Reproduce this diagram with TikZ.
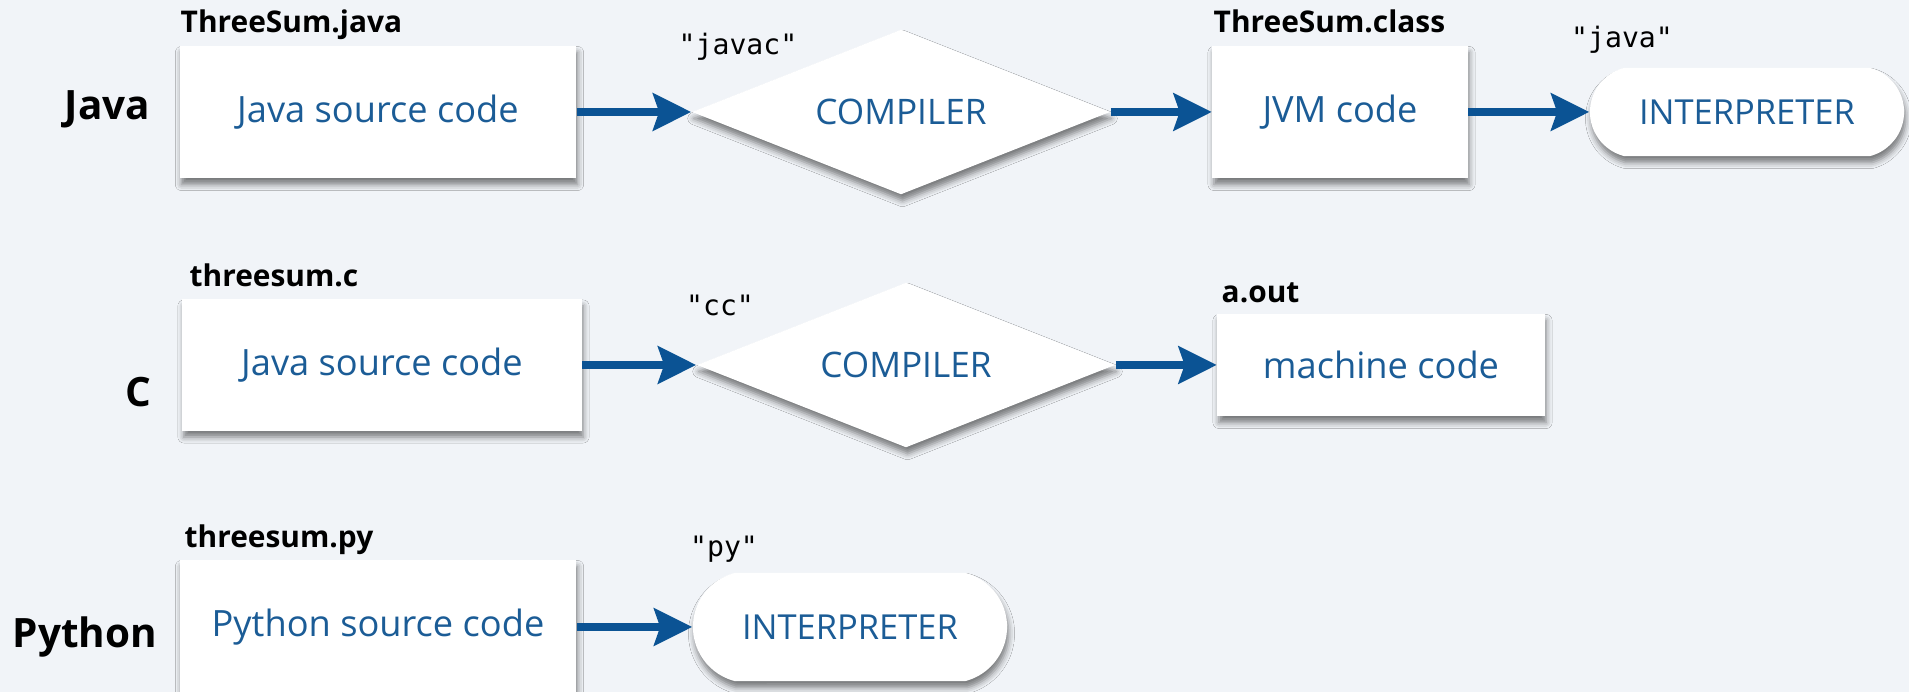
\documentclass[tikz,border=0pt]{standalone}
\usepackage{fontspec}
\setmainfont{Open Sans}
\setmonofont{DejaVu Sans Mono}
\usetikzlibrary{shapes.geometric,shapes.misc,shadows.blur,arrows.meta}
\definecolor{bg}{HTML}{F1F4F8}
\definecolor{ink}{HTML}{0B5394}
\definecolor{txt}{HTML}{1B5C96}
\def\w{3.96cm}
\def\h{1.32cm}
\tikzstyle{shd}=[blur shadow={shadow xshift=0.015cm,shadow yshift=-0.065cm,shadow blur radius=0.06cm,shadow opacity=50}]
\tikzstyle{box}=[rectangle,fill=white,shd,text=txt,inner sep=0pt,font=\fontsize{10.3}{12}\selectfont]
\tikzstyle{comp}=[diamond,aspect=2.53,fill=white,shd,text=txt,inner sep=0pt,minimum width=4.18cm,minimum height=1.65cm,font=\fontsize{10}{12}\selectfont]
\tikzstyle{interp}=[rounded rectangle,rounded rectangle arc length=150,fill=white,shd,text=txt,inner sep=0pt,minimum width=3.14cm,font=\fontsize{9.8}{12}\selectfont]
\tikzstyle{file}=[anchor=base west,inner sep=0pt,font=\bfseries\fontsize{8.5}{10}\selectfont]
\tikzstyle{cmd}=[anchor=base,inner sep=0pt,font=\ttfamily\fontsize{8}{9}\selectfont]
\tikzstyle{lang}=[anchor=base west,inner sep=0pt,font=\bfseries\fontsize{11.5}{13}\selectfont]
\tikzstyle{arr}=[-{Stealth[length=0.38cm,width=0.37cm,inset=0.06cm]},line width=0.08cm,draw=ink]

\begin{document}
\begin{tikzpicture}[x=0.01cm,y=-0.01cm]
	\useasboundingbox (0,0) rectangle (1909,692);
	\fill[bg] (0,0) rectangle (1909,692);
	% Java
	\node[lang](ljava) at (64,120){Java};
	\node[box,minimum width=\w,minimum height=\h](jsrc) at (378,112){Java source code};
	\node[comp](jcomp) at (901,112){COMPILER};
	\node[box,minimum width=2.55cm,minimum height=\h](jvm) at (1340,112){JVM code};
	\node[interp,minimum height=0.88cm](jint) at (1747,112){INTERPRETER};
	\node[file](fjava) at (180,33){ThreeSum.java};
	\node[file](fclass) at (1213,33){ThreeSum.class};
	\node[cmd](cjavac) at (738,55){"javac"};
	\node[cmd](cjava) at (1622,48){"java"};
	\draw[arr](jsrc)--(jcomp);
	\draw[arr](jcomp)--(jvm);
	\draw[arr](jvm)--(jint);
	% C
	\node[lang](lc) at (125,407){C};
	\node[box,minimum width=3.99cm,minimum height=1.31cm](csrc) at (382,365){Java source code};
	\node[comp](ccomp) at (906,365){COMPILER};
	\node[box,minimum width=3.27cm,minimum height=1.02cm](cbin) at (1381,365){machine code};
	\node[file](fc) at (189,287){threesum.c};
	\node[file](fout) at (1221,303){a.out};
	\node[cmd](ccc) at (720,316){"cc"};
	\draw[arr](csrc)--(ccomp);
	\draw[arr](ccomp)--(cbin);
	% Python
	\node[lang](lpy) at (12,648){Python};
	\node[box,minimum width=\w,minimum height=1.34cm](psrc) at (378,627){Python source code};
	\node[interp,minimum height=1.08cm](pint) at (850,627){INTERPRETER};
	\node[file](fpy) at (184,548){threesum.py};
	\node[cmd](cpy) at (724,557){"py"};
	\draw[arr](psrc)--(pint);
\end{tikzpicture}
\end{document}
